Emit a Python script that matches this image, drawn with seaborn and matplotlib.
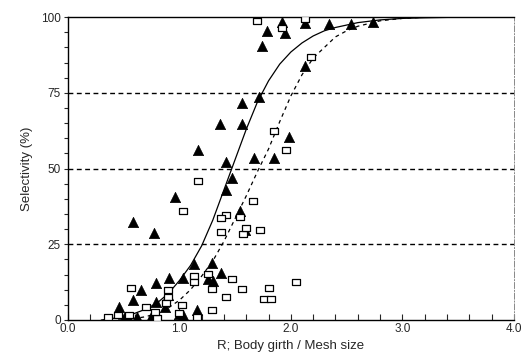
import numpy as np
import pandas as pd
import matplotlib
matplotlib.use("Agg")
import matplotlib.pyplot as plt
import seaborn as sns
from matplotlib.ticker import MultipleLocator
from matplotlib.path import Path

# ---- data ----
tri_x = [1.79, 1.74, 1.92, 1.95, 2.13, 2.34, 2.54, 2.74, 2.13, 1.98, 1.85, 1.56, 1.36, 1.56,
         1.17, 1.42, 1.67, 1.71, 1.47, 1.42, 0.96, 1.54, 1.59, 0.77, 0.58,
         1.13, 1.29, 1.37, 1.03, 1.26, 1.30, 0.91, 0.79, 0.66, 0.58, 0.46, 0.79, 0.87,
         0.90, 1.16, 1.03, 0.75, 0.54, 1.00, 0.62, 0.50]
tri_y = [95.4, 90.5, 98.5, 94.7, 98.0, 97.7, 97.7, 98.4, 84.0, 60.4, 53.5, 71.7, 64.7, 64.7,
         56.0, 52.2, 53.6, 73.6, 47.0, 43.0, 40.5, 36.0, 29.7, 28.7, 32.3,
         18.5, 18.8, 15.5, 13.9, 13.5, 13.0, 13.9, 12.2, 9.9, 6.6, 4.3, 5.9, 4.3,
         8.3, 3.3, 1.6, 1.0, 1.0, 2.0, 1.0, 0.5]

sq_x = [1.70, 1.92, 2.13, 2.18, 1.85, 1.96, 1.17, 1.66, 1.03, 1.42, 1.37, 1.54, 1.37, 1.57,
        1.72, 1.60, 2.05,
        1.13, 1.13, 1.26, 1.47, 1.29, 1.56, 1.42, 1.80, 1.76, 1.82, 1.29, 1.02, 1.00, 1.16,
        0.57, 0.90, 0.90, 0.70, 0.80, 0.78, 0.88, 0.45, 0.36, 0.55]
sq_y = [98.7, 96.4, 99.5, 86.8, 62.5, 56.2, 46.0, 39.2, 36.0, 34.6, 33.6, 34.0, 29.0, 28.4,
        29.6, 30.5, 12.5,
        14.5, 12.5, 15.2, 13.5, 10.2, 10.2, 7.6, 10.6, 7.0, 7.0, 3.3, 5.0, 2.3, 1.0,
        10.6, 10.0, 7.6, 4.3, 0.7, 2.6, 5.6, 1.6, 1.0, 1.5]

solid_x = [0.30, 0.40, 0.50, 0.60, 0.70, 0.80, 0.90, 1.00, 1.10, 1.20, 1.30, 1.40, 1.50, 1.60,
           1.70, 1.80, 1.90, 2.00, 2.10, 2.20, 2.30, 2.40, 2.60, 2.80, 3.00, 3.20, 3.50, 4.00]
solid_y = [0.0, 0.5, 1.2, 2.2, 3.6, 5.6, 8.7, 13.0, 18.0, 24.5, 33.0, 43.0, 53.0, 63.0,
           72.0, 79.0, 84.5, 88.5, 91.5, 93.8, 95.5, 96.6, 98.2, 99.1, 99.6, 99.8, 100.0, 100.0]

dash_x = [0.45, 0.50, 0.60, 0.70, 0.80, 0.90, 1.00, 1.10, 1.20, 1.30, 1.40, 1.50, 1.60, 1.70,
          1.80, 1.90, 2.00, 2.10, 2.20, 2.30, 2.40, 2.50, 2.60, 2.80, 3.00, 3.20, 3.50, 4.00]
dash_y = [0.0, 0.1, 0.5, 1.1, 2.2, 4.0, 6.5, 10.0, 14.5, 19.5, 26.0, 33.5, 41.0, 49.0,
          56.5, 65.5, 74.0, 81.0, 86.5, 90.0, 93.5, 95.5, 97.0, 98.8, 99.6, 100.0, 100.0, 100.0]

x_ticks = [0.0, 1.0, 2.0, 3.0, 4.0]
x_labels = ["0.0", "1.0", "2.0", "3.0", "4.0"]
y_ticks = [0, 25, 50, 75, 100]
y_labels = ["0", "25", "50", "75", "100"]
grid_levels = [25, 50, 75]

sns.set_style("ticks")
plt.rcParams["font.family"] = ["Liberation Sans", "DejaVu Sans"]

fig = plt.figure(figsize=(5.26, 3.55), dpi=100)
ax = fig.add_axes([0.129, 0.0986, 0.848, 0.853])

for g in grid_levels:
    ax.axhline(g, color="black", lw=1.0, ls=(0, (3.5, 2.5)), zorder=1)

rect_marker = Path([(-1.0, -0.7), (1.0, -0.7), (1.0, 0.7), (-1.0, 0.7), (-1.0, -0.7)],
                   [Path.MOVETO, Path.LINETO, Path.LINETO, Path.LINETO, Path.CLOSEPOLY])

tri_df = pd.DataFrame({"x": tri_x, "y": tri_y})
sq_df = pd.DataFrame({"x": sq_x, "y": sq_y})
sns.scatterplot(data=tri_df, x="x", y="y", marker="^", s=55, color="black",
                edgecolor="black", linewidth=0.5, ax=ax, zorder=3)
sns.scatterplot(data=sq_df, x="x", y="y", marker=rect_marker, s=30, facecolor="white",
                edgecolor="black", linewidth=0.9, ax=ax, zorder=4)

sns.lineplot(x=solid_x, y=solid_y, color="black", lw=0.9, ax=ax, zorder=2)
sns.lineplot(x=dash_x, y=dash_y, color="black", lw=0.9, ls=(0, (3, 3)), ax=ax, zorder=2)

ax.set_xlim(0, 4.0)
ax.set_ylim(0, 100)
ax.set_xticks(x_ticks)
ax.set_xticklabels(x_labels)
ax.set_yticks(y_ticks)
ax.set_yticklabels(y_labels)
ax.xaxis.set_minor_locator(MultipleLocator(0.2))
ax.yaxis.set_minor_locator(MultipleLocator(5))
ax.tick_params(axis="x", which="both", direction="in", length=4, width=0.8, labelsize=8.5, pad=2)
ax.tick_params(axis="y", which="both", direction="out", length=3, width=0.8, labelsize=8.5, pad=2)

for side in ["left", "bottom", "top"]:
    ax.spines[side].set_color("black")
    ax.spines[side].set_linewidth(1.0)
ax.spines["right"].set_color("#888888")
ax.spines["right"].set_linewidth(0.7)
ax.spines["right"].set_linestyle((0, (6, 2, 1, 2)))

ax.set_xlabel("R; Body girth / Mesh size", fontsize=9.5, labelpad=4)
ax.set_ylabel("Selectivity (%)", fontsize=9.5, labelpad=6)

fig.savefig("out.png", dpi=100, facecolor="white")
